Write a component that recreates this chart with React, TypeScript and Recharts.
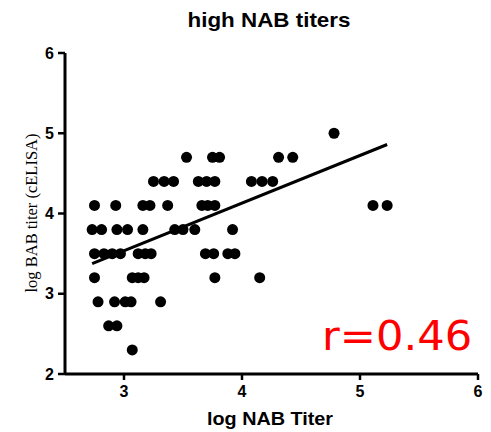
import { ScatterChart, Scatter, XAxis, YAxis, ReferenceLine } from "recharts";

const BAB_LEVELS = [5.0, 4.7, 4.4, 4.1, 3.8, 3.5, 3.2, 2.9, 2.6, 2.3];
const nab50 = [4.78];
const nab47 = [3.53, 3.75, 3.81, 4.31, 4.43];
const nab44 = [3.25, 3.34, 3.42, 3.63, 3.7, 3.77, 4.08, 4.17, 4.26];
const nab41 = [2.75, 2.93, 3.16, 3.22, 3.37, 3.66, 3.71, 3.77, 5.11, 5.23];
const nab38 = [2.73, 2.81, 2.94, 3.03, 3.16, 3.43, 3.5, 3.6, 3.92];
const nab35 = [2.75, 2.83, 2.9, 2.97, 3.12, 3.18, 3.23, 3.69, 3.76, 3.88, 3.94];
const nab32 = [2.75, 3.07, 3.12, 3.17, 3.77, 4.15];
const nab29 = [2.78, 2.92, 3.01, 3.06, 3.31];
const nab26 = [2.87, 2.94];
const nab23 = [3.07];

const NAB_ROWS = [nab50, nab47, nab44, nab41, nab38, nab35, nab32, nab29, nab26, nab23];

// regression line end points
const FIT_X = [2.73, 5.23];
const FIT_Y = [3.375, 4.86];

const X_TICKS = [3, 4, 5, 6];
const Y_TICKS = [2, 3, 4, 5, 6];

const points = NAB_ROWS.flatMap((row, i) => row.map((x) => ({ x, y: BAB_LEVELS[i] })));

const tickStyle = {
  fill: "#000",
  fontSize: 16,
  fontWeight: "bold",
  fontFamily: "'Liberation Sans', Arial, sans-serif",
};

const Dot = (props: any) => <circle cx={props.cx} cy={props.cy} r={5.5} fill="#000" />;

export default function App() {
  return (
    <div style={{ position: "absolute", left: 0, top: 0, width: 491, height: 432, background: "#fff" }}>
      <ScatterChart width={491} height={432} margin={{ top: 53, right: 13, bottom: 0, left: 0 }}>
        <XAxis
          type="number"
          dataKey="x"
          domain={[2.5, 6]}
          ticks={X_TICKS}
          height={58}
          axisLine={{ stroke: "#000", strokeWidth: 3 }}
          tickLine={{ stroke: "#000", strokeWidth: 2.5 }}
          tickSize={6}
          tickMargin={6}
          tick={tickStyle}
          allowDataOverflow
        />
        <YAxis
          type="number"
          dataKey="y"
          domain={[2, 6]}
          ticks={Y_TICKS}
          width={65}
          axisLine={{ stroke: "#000", strokeWidth: 3 }}
          tickLine={{ stroke: "#000", strokeWidth: 2.5 }}
          tickSize={7}
          tickMargin={4}
          tick={tickStyle}
          allowDataOverflow
        />
        <Scatter data={points} shape={Dot} isAnimationActive={false} />
        <ReferenceLine
          segment={[
            { x: FIT_X[0], y: FIT_Y[0] },
            { x: FIT_X[1], y: FIT_Y[1] },
          ]}
          stroke="#000"
          strokeWidth={3}
        />
      </ScatterChart>
      <svg
        width={491}
        height={432}
        style={{ position: "absolute", left: 0, top: 0, pointerEvents: "none" }}
      >
        <text
          transform="translate(269,27) scale(1.12,1)"
          textAnchor="middle"
          fontFamily="'Liberation Sans', Arial, sans-serif"
          fontWeight="bold"
          fontSize={20}
        >
          high NAB titers
        </text>
        <text
          transform="translate(270,425) scale(1.1,1)"
          textAnchor="middle"
          fontFamily="'Liberation Sans', Arial, sans-serif"
          fontWeight="bold"
          fontSize={18}
        >
          log NAB Titer
        </text>
        <text
          transform="translate(37,213) rotate(-90)"
          textAnchor="middle"
          fontFamily="'Liberation Serif', 'Times New Roman', serif"
          fontSize={16.5}
        >
          log BAB titer (cELISA)
        </text>
        <text
          transform="translate(322,350) scale(1.08,1)"
          fontFamily="'DejaVu Sans', Verdana, sans-serif"
          fontSize={40}
          fill="#ff0000"
        >
          r=0.46
        </text>
      </svg>
    </div>
  );
}
